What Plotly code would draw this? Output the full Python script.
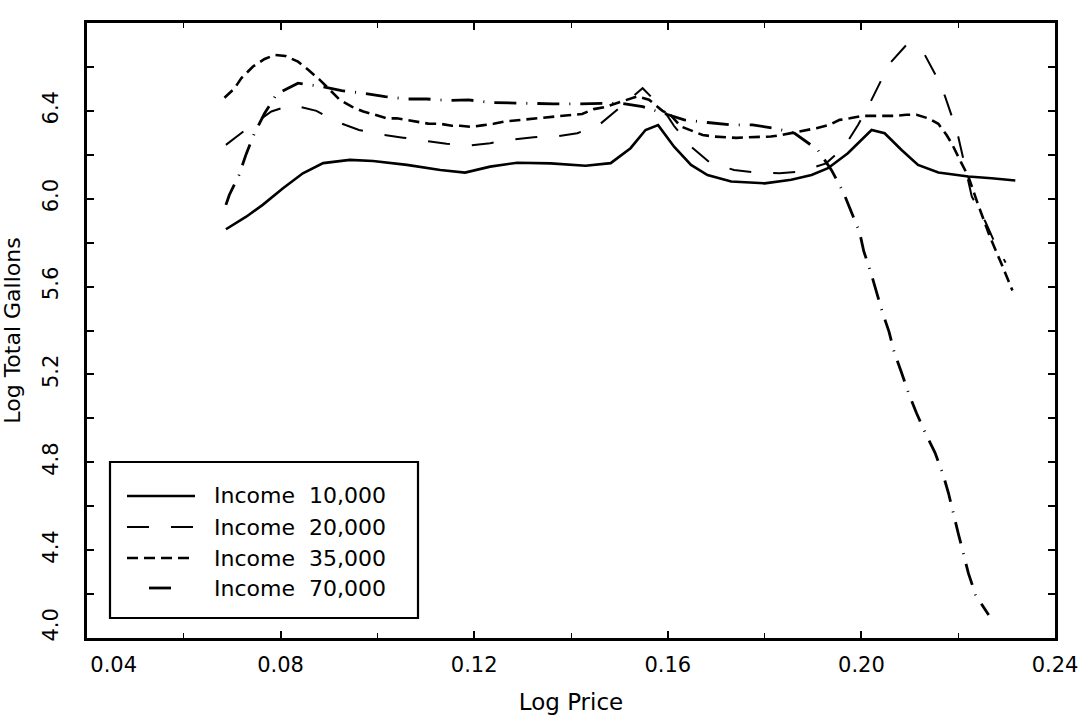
import plotly.graph_objects as go

# ---- data: log price vs log total gallons, one curve per income level ----
series_names = ["Income\u00a0 10,000", "Income\u00a0 20,000", "Income\u00a0 35,000", "Income\u00a0 70,000"]

x_inc10 = [0.0687, 0.0729, 0.0763, 0.0805, 0.0846, 0.0888, 0.0943, 0.0991, 0.1061, 0.1130,
           0.1181, 0.1233, 0.1289, 0.1358, 0.1430, 0.1482, 0.1523, 0.1554, 0.1580, 0.1613,
           0.1648, 0.1682, 0.1731, 0.1800, 0.1855, 0.1897, 0.1931, 0.1972, 0.2021, 0.2048,
           0.2083, 0.2117, 0.2159, 0.2221, 0.2269, 0.2318]
y_inc10 = [5.861, 5.918, 5.972, 6.048, 6.116, 6.162, 6.177, 6.172, 6.154, 6.131,
           6.119, 6.146, 6.164, 6.161, 6.150, 6.162, 6.230, 6.313, 6.335, 6.237,
           6.154, 6.108, 6.078, 6.070, 6.086, 6.108, 6.139, 6.207, 6.313, 6.298,
           6.222, 6.154, 6.119, 6.101, 6.093, 6.083]

x_inc20 = [0.0687, 0.0732, 0.0781, 0.0823, 0.0874, 0.0915, 0.0962, 0.1007, 0.1053, 0.1098,
           0.1143, 0.1188, 0.1233, 0.1275, 0.1323, 0.1368, 0.1413, 0.1440, 0.1458, 0.1503,
           0.1548, 0.1589, 0.1613, 0.1648, 0.1689, 0.1737, 0.1782, 0.1831, 0.1876, 0.1927,
           0.1965, 0.1993, 0.2014, 0.2038, 0.2059, 0.2093, 0.2131, 0.2155, 0.2173, 0.2187,
           0.2200, 0.2211, 0.2228, 0.2256, 0.2276, 0.2298]
y_inc20 = [6.245, 6.321, 6.397, 6.427, 6.400, 6.351, 6.313, 6.293, 6.278, 6.263,
           6.250, 6.242, 6.253, 6.268, 6.280, 6.283, 6.298, 6.321, 6.336, 6.419,
           6.503, 6.412, 6.331, 6.237, 6.161, 6.131, 6.119, 6.116, 6.124, 6.161,
           6.237, 6.336, 6.419, 6.526, 6.617, 6.700, 6.655, 6.556, 6.465, 6.374,
           6.283, 6.177, 6.010, 5.896, 5.797, 5.709]

x_inc35 = [0.0684, 0.0705, 0.0719, 0.0743, 0.0767, 0.0788, 0.0810, 0.0836, 0.0857, 0.0881,
           0.0902, 0.0922, 0.0947, 0.0971, 0.0995, 0.1019, 0.1040, 0.1064, 0.1085, 0.1105,
           0.1130, 0.1154, 0.1171, 0.1195, 0.1216, 0.1240, 0.1261, 0.1285, 0.1306, 0.1330,
           0.1351, 0.1375, 0.1399, 0.1423, 0.1447, 0.1468, 0.1537, 0.1561, 0.1589, 0.1606,
           0.1627, 0.1655, 0.1672, 0.1696, 0.1718, 0.1742, 0.1765, 0.1793, 0.1813, 0.1834,
           0.1907, 0.1934, 0.1955, 0.1976, 0.2003, 0.2028, 0.2045, 0.2069, 0.2093, 0.2114,
           0.2138, 0.2159, 0.2176, 0.2187, 0.2207, 0.2221, 0.2240, 0.2265, 0.2290, 0.2312]
y_inc35 = [6.460, 6.503, 6.549, 6.602, 6.636, 6.655, 6.650, 6.624, 6.587, 6.541,
           6.495, 6.451, 6.419, 6.397, 6.382, 6.366, 6.366, 6.356, 6.348, 6.342,
           6.341, 6.332, 6.332, 6.327, 6.334, 6.341, 6.351, 6.356, 6.363, 6.366,
           6.371, 6.374, 6.382, 6.386, 6.408, 6.416, 6.466, 6.451, 6.400, 6.380,
           6.329, 6.306, 6.290, 6.283, 6.280, 6.277, 6.280, 6.280, 6.283, 6.290,
           6.321, 6.336, 6.359, 6.366, 6.377, 6.377, 6.377, 6.377, 6.382, 6.382,
           6.366, 6.341, 6.290, 6.250, 6.161, 6.101, 5.980, 5.830, 5.700, 5.582]

x_inc70 = [0.0687, 0.0694, 0.0714, 0.0729, 0.0746, 0.0767, 0.0792, 0.0836, 0.0884, 0.0926,
           0.0972, 0.1016, 0.1060, 0.1102, 0.1147, 0.1188, 0.1233, 0.1275, 0.1320, 0.1364,
           0.1413, 0.1458, 0.1501, 0.1548, 0.1599, 0.1634, 0.1682, 0.1731, 0.1775, 0.1820,
           0.1862, 0.1910, 0.1938, 0.1962, 0.1979, 0.1996, 0.2005, 0.2019, 0.2031, 0.2043,
           0.2057, 0.2068, 0.2083, 0.2097, 0.2114, 0.2131, 0.2152, 0.2168, 0.2180, 0.2190,
           0.2200, 0.2211, 0.2221, 0.2236, 0.2263]
y_inc70 = [5.972, 6.017, 6.108, 6.204, 6.298, 6.389, 6.477, 6.526, 6.511, 6.492,
           6.480, 6.465, 6.454, 6.454, 6.447, 6.450, 6.438, 6.435, 6.432, 6.432,
           6.432, 6.432, 6.435, 6.419, 6.382, 6.359, 6.347, 6.336, 6.336, 6.321,
           6.298, 6.222, 6.131, 6.033, 5.941, 5.850, 5.760, 5.668, 5.577, 5.486,
           5.395, 5.300, 5.208, 5.117, 5.023, 4.939, 4.844, 4.750, 4.659, 4.565,
           4.477, 4.383, 4.295, 4.196, 4.105]

NB = "\u00a0"
x_tick_vals = [0.04, 0.08, 0.12, 0.16, 0.20, 0.24]
# first label is nudged right, away from the corner
x_tick_text = [NB * 8 + "0.04", "0.08", "0.12", "0.16", "0.20", "0.24"]
y_tick_vals = [4.0, 4.4, 4.8, 5.2, 5.6, 6.0, 6.4, 6.8]
# end labels are nudged upward along the rotated axis
y_tick_text = [NB * 3 + "4.0", "4.4", "4.8", "5.2", "5.6", "6.0", "6.4", NB * 2 + "6.8"]

# ---- line styles ----
styles = [
    dict(width=2.6, dash="solid"),
    dict(width=2.0, dash="22px,22px"),
    dict(width=2.6, dash="11px,6px"),
    dict(width=2.8, dash="22px,10px,1px,10px"),
]

FONT = "DejaVu Sans"
INK = "black"

fig = go.Figure()
for xs, ys, st, name in zip([x_inc10, x_inc20, x_inc35, x_inc70],
                            [y_inc10, y_inc20, y_inc35, y_inc70],
                            styles, series_names):
    fig.add_trace(go.Scatter(x=xs, y=ys, mode="lines", name=name,
                             line=dict(color=INK, width=st["width"], dash=st["dash"]),
                             showlegend=False, hoverinfo="skip"))

# ---- boxed key in the lower-left corner (paper coordinates) ----
L, R, T, B = 87, 37, 23, 87
W, H = 1092, 725
pw, ph = W - L - R, H - T - B


def px_x(px):
    return (px - L) / pw


def px_y(py):
    return (H - B - py) / ph


shapes = [dict(type="rect", xref="paper", yref="paper",
               x0=px_x(110), x1=px_x(418), y0=px_y(618), y1=px_y(462),
               line=dict(color=INK, width=2.2), fillcolor="white", layer="above")]
annotations = []
row_y = [496, 527, 558, 588]
sample_span = [(127, 195), (127, 195), (127, 195), (149, 172)]
for i, (name, st) in enumerate(zip(series_names, styles)):
    yy = px_y(row_y[i])
    x0, x1 = sample_span[i]
    shapes.append(dict(type="line", xref="paper", yref="paper",
                       x0=px_x(x0), x1=px_x(x1), y0=yy, y1=yy,
                       line=dict(color=INK, width=st["width"], dash=st["dash"]),
                       layer="above"))
    annotations.append(dict(xref="paper", yref="paper", x=px_x(212), y=yy,
                            xanchor="left", yanchor="middle", showarrow=False,
                            text=name, font=dict(family=FONT, size=22, color=INK)))

axis_common = dict(showline=True, linecolor=INK, linewidth=3, mirror="allticks",
                   ticks="inside", ticklen=7, tickwidth=1.5, tickcolor=INK,
                   showgrid=False, zeroline=False,
                   tickfont=dict(family=FONT, size=21, color=INK))

fig.update_layout(
    width=W, height=H,
    margin=dict(l=L, r=R, t=T, b=B, autoexpand=False),
    paper_bgcolor="white", plot_bgcolor="white",
    shapes=shapes, annotations=annotations,
    xaxis=dict(range=[0.04, 0.24], tickvals=x_tick_vals, ticktext=x_tick_text,
               ticklabelstandoff=6,
               minor=dict(dtick=0.02, tick0=0.04, ticks="inside", ticklen=5,
                          tickwidth=1.2, tickcolor=INK),
               title=dict(text="Log Price", standoff=18,
                          font=dict(family=FONT, size=23, color=INK)),
               **axis_common),
    yaxis=dict(range=[4.0, 6.8], tickvals=y_tick_vals, ticktext=y_tick_text,
               tickangle=-90, ticklabelstandoff=18,
               minor=dict(dtick=0.2, tick0=4.0, ticks="inside", ticklen=7,
                          tickwidth=1.5, tickcolor=INK),
               title=dict(text="Log Total Gallons", standoff=12,
                          font=dict(family=FONT, size=22, color=INK)),
               **axis_common),
)

fig.write_html("out.html")
